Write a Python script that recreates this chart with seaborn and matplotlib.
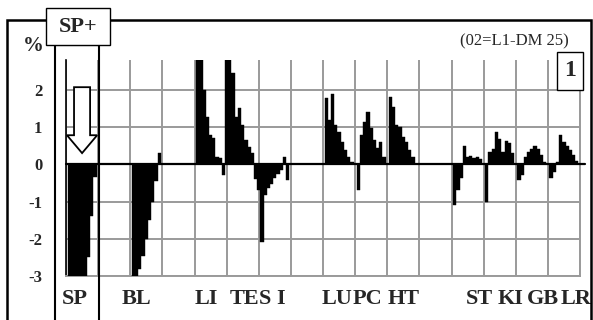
import seaborn as sns
import numpy as np
import matplotlib.pyplot as plt
import pandas as pd
from matplotlib.patches import Rectangle, FancyArrow

sns.set_style("white")
plt.rcParams["font.family"] = ["Liberation Serif", "DejaVu Serif"]

# first bar position of each group and its bar heights (%)
group_start = [1, 21, 41, 50, 60, 81, 91, 101, 121, 131, 141, 151]
sp = [-3, -3, -3, -3, -3, -3, -2.5, -1.4, -0.35]
bl = [-3, -3, -2.8, -2.45, -2.0, -1.5, -1.0, -0.45, 0.3]
li = [2.85, 2.85, 2.0, 1.26, 0.78, 0.7, 0.2, 0.18, -0.28]
te = [2.85, 2.85, 2.45, 1.27, 1.5, 1.05, 0.65, 0.46, 0.3, -0.4]
si = [-0.7, -2.1, -0.83, -0.65, -0.52, -0.38, -0.25, -0.16, 0.2, -0.43]
lu = [1.77, 1.18, 1.88, 1.05, 0.86, 0.6, 0.38, 0.2, 0.06]
pc = [-0.7, 0.78, 1.13, 1.4, 0.97, 0.65, 0.43, 0.6, 0.2]
ht = [1.8, 1.53, 1.05, 1.0, 0.73, 0.6, 0.38, 0.2]
st = [-1.1, -0.7, -0.38, 0.5, 0.2, 0.22, 0.18, 0.2, 0.15]
ki = [-1.0, 0.33, 0.4, 0.87, 0.69, 0.33, 0.62, 0.56, 0.3]
gb = [-0.43, -0.3, 0.2, 0.32, 0.42, 0.5, 0.42, 0.24, 0.05]
lr = [-0.38, -0.2, 0.05, 0.78, 0.6, 0.5, 0.38, 0.24, 0.1]
group_values = [sp, bl, li, te, si, lu, pc, ht, st, ki, gb, lr]

# organ labels under the axis
label_names = ["SP", "BL", "LI", "TE", "S I", "LU", "PC", "HT", "ST", "KI", "GB", "LR"]
label_pos = [2.8, 21.8, 43.6, 55.7, 64.1, 84.4, 93.7, 105.2, 128.6, 138.5, 148.5, 158.7]

y_ticks = [-3, -2, -1, 0, 1, 2]

rows = []
for start, vals in zip(group_start, group_values):
    for i, v in enumerate(vals):
        rows.append((start + i, v))
df = pd.DataFrame(rows, columns=["pos", "value"])

W, H = 593, 320
fig = plt.figure(figsize=(W / 100, H / 100), dpi=100)
ax = fig.add_axes([66 / W, 44 / H, 514 / W, 216 / H])

grid_c = "#9a9a9a"
sns.barplot(data=df, x="pos", y="value", native_scale=True, color="black",
            saturation=1, width=1, errorbar=None, linewidth=0.3,
            edgecolor="black", ax=ax, zorder=3)

ax.set_xlim(0, 160)
ax.set_ylim(-3, 2.8)
ax.set_xticks(np.arange(0, 161, 10))
ax.set_xticklabels([])
ax.set_xticks(label_pos, minor=True)
ax.set_xticklabels(label_names, minor=True, fontsize=16, fontweight="bold")
ax.set_yticks(y_ticks)
ax.set_yticklabels([str(t) for t in y_ticks], fontsize=12, fontweight="bold")
ax.set_xlabel("")
ax.set_ylabel("")
ax.grid(True, color=grid_c, lw=1.4)
ax.set_axisbelow(True)
ax.tick_params(axis="y", direction="out", length=6, width=1.4, color=grid_c, pad=11)
ax.tick_params(axis="x", which="major", direction="out", length=3, width=1.4, color=grid_c)
ax.tick_params(axis="x", which="minor", length=0, pad=9)
ax.spines["top"].set_visible(False)
for s in ["bottom", "right"]:
    ax.spines[s].set_color(grid_c)
    ax.spines[s].set_linewidth(1.4)
ax.spines["left"].set_color("black")
ax.spines["left"].set_linewidth(1.2)
# zero line runs a little past the right edge
ax.plot([0, 161.5], [0, 0], color="black", lw=1.6, zorder=4, clip_on=False)

# hollow arrow pointing down in the SP region
ax.add_patch(FancyArrow(5, 2.07, 0, -1.77, width=5, head_width=9.4, head_length=0.48,
                        length_includes_head=True, fc="white", ec="black", lw=1.3, zorder=5))

# outer frame
fig.add_artist(Rectangle((7 / W, -0.1), 584 / W, 0.1 + 1 - 20 / H, fill=False,
                         ec="black", lw=1.8, transform=fig.transFigure))
# SP+ column and its header box
fig.add_artist(Rectangle((55 / W, -0.1), 44 / W, 0.1 + 1 - 45 / H, fill=False,
                         ec="black", lw=1.5, transform=fig.transFigure, zorder=6))
fig.add_artist(Rectangle((46 / W, 1 - 45 / H), 64 / W, 37 / H, fc="white",
                         ec="black", lw=1.0, transform=fig.transFigure, zorder=6))
fig.text(78 / W, 1 - 27 / H, "SP+", ha="center", va="center", fontsize=16,
         fontweight="bold", zorder=7)

# panel number box
fig.add_artist(Rectangle((557 / W, 1 - 90 / H), 26 / W, 38 / H, fc="white",
                         ec="black", lw=1.0, transform=fig.transFigure, zorder=6))
fig.text(570 / W, 1 - 71 / H, "1", ha="center", va="center", fontsize=17,
         fontweight="bold", zorder=7)

fig.text(514 / W, 1 - 41 / H, "(02=L1-DM 25)", ha="center", va="center", fontsize=12)
fig.text(33 / W, 1 - 46 / H, "%", ha="center", va="center", fontsize=15, fontweight="bold")

fig.savefig("out.png", dpi=100)
